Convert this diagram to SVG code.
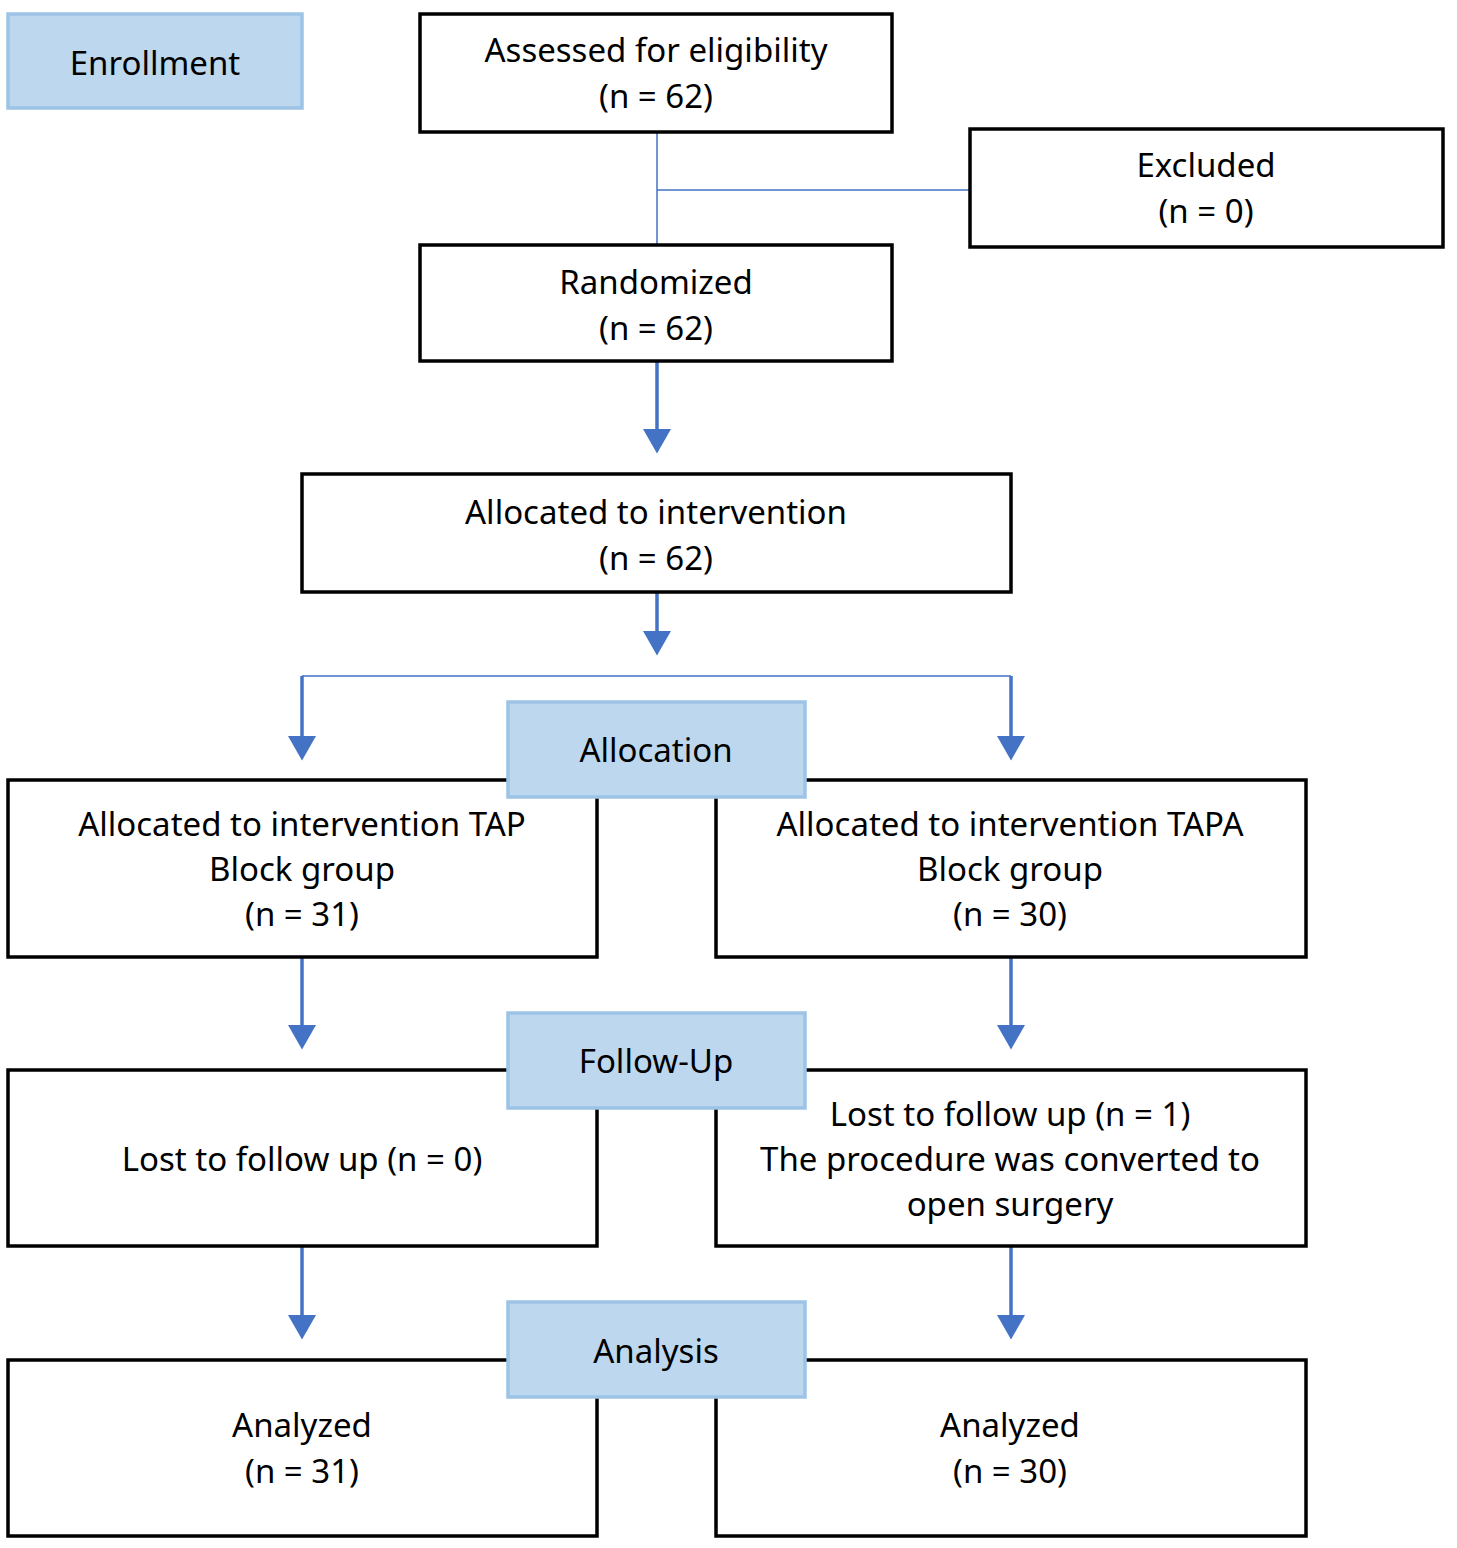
<svg xmlns="http://www.w3.org/2000/svg" width="1457" height="1548" viewBox="0 0 1457 1548">
<style>
.n{fill:#fff;stroke:#000;stroke-width:3.5}
.l{fill:#BDD7EE;stroke:#9DC3E6;stroke-width:3.5}
text{font-family:"Noto Sans","DejaVu Sans",sans-serif;font-size:33px;fill:#000;text-anchor:middle}
.thin{stroke:#4472C4;stroke-width:1.5;fill:none}
.thick{stroke:#4472C4;stroke-width:3.5;fill:none;marker-end:url(#a)}
</style>
<defs><marker id="a" markerWidth="8" markerHeight="8" refX="6" refY="4" orient="auto" markerUnits="strokeWidth"><path d="M0,0 L7,4 L0,8 z" fill="#4472C4"/></marker></defs>
<rect width="1457" height="1548" fill="#fff"/>
<g id="connectors">
<path class="thin" d="M657,132 V245 M657,190 H970 M302,676 H1011"/>
<path class="thick" d="M657,362 V450"/>
<path class="thick" d="M657,593 V652"/>
<path class="thick" d="M302,676 V757"/>
<path class="thick" d="M1011,676 V757"/>
<path class="thick" d="M302,958 V1046"/>
<path class="thick" d="M1011,958 V1046"/>
<path class="thick" d="M302,1247 V1336"/>
<path class="thick" d="M1011,1247 V1336"/>
</g>
<g id="enrollment"><rect class="l" x="8" y="14" width="294" height="94"/><text x="155" y="75" font-size="37">Enrollment</text></g>
<g id="assessed"><rect class="n" x="420" y="14" width="472" height="118"/><text x="656" y="62">Assessed for eligibility</text><text x="656" y="108">(n = 62)</text></g>
<g id="excluded"><rect class="n" x="970" y="129" width="473" height="118"/><text x="1206" y="177">Excluded</text><text x="1206" y="223">(n = 0)</text></g>
<g id="randomized"><rect class="n" x="420" y="245" width="472" height="116"/><text x="656" y="294">Randomized</text><text x="656" y="340">(n = 62)</text></g>
<g id="allocated"><rect class="n" x="302" y="474" width="709" height="118"/><text x="656" y="524">Allocated to intervention</text><text x="656" y="570">(n = 62)</text></g>
<g id="tap"><rect class="n" x="8" y="780" width="589" height="177"/><text x="302" y="836">Allocated to intervention TAP</text><text x="302" y="881">Block group</text><text x="302" y="926">(n = 31)</text></g>
<g id="tapa"><rect class="n" x="716" y="780" width="590" height="177"/><text x="1010" y="836">Allocated to intervention TAPA</text><text x="1010" y="881">Block group</text><text x="1010" y="926">(n = 30)</text></g>
<g id="allocation"><rect class="l" x="508" y="702" width="297" height="95"/><text x="656" y="762">Allocation</text></g>
<g id="lost1"><rect class="n" x="8" y="1070" width="589" height="176"/><text x="302" y="1171">Lost to follow up (n = 0)</text></g>
<g id="lost2"><rect class="n" x="716" y="1070" width="590" height="176"/><text x="1010" y="1126">Lost to follow up (n = 1)</text><text x="1010" y="1171">The procedure was converted to</text><text x="1010" y="1216">open surgery</text></g>
<g id="followup"><rect class="l" x="508" y="1013" width="297" height="95"/><text x="656" y="1073">Follow-Up</text></g>
<g id="analyzed1"><rect class="n" x="8" y="1360" width="589" height="176"/><text x="302" y="1437">Analyzed</text><text x="302" y="1483">(n = 31)</text></g>
<g id="analyzed2"><rect class="n" x="716" y="1360" width="590" height="176"/><text x="1010" y="1437">Analyzed</text><text x="1010" y="1483">(n = 30)</text></g>
<g id="analysis"><rect class="l" x="508" y="1302" width="297" height="95"/><text x="656" y="1363">Analysis</text></g>
</svg>
